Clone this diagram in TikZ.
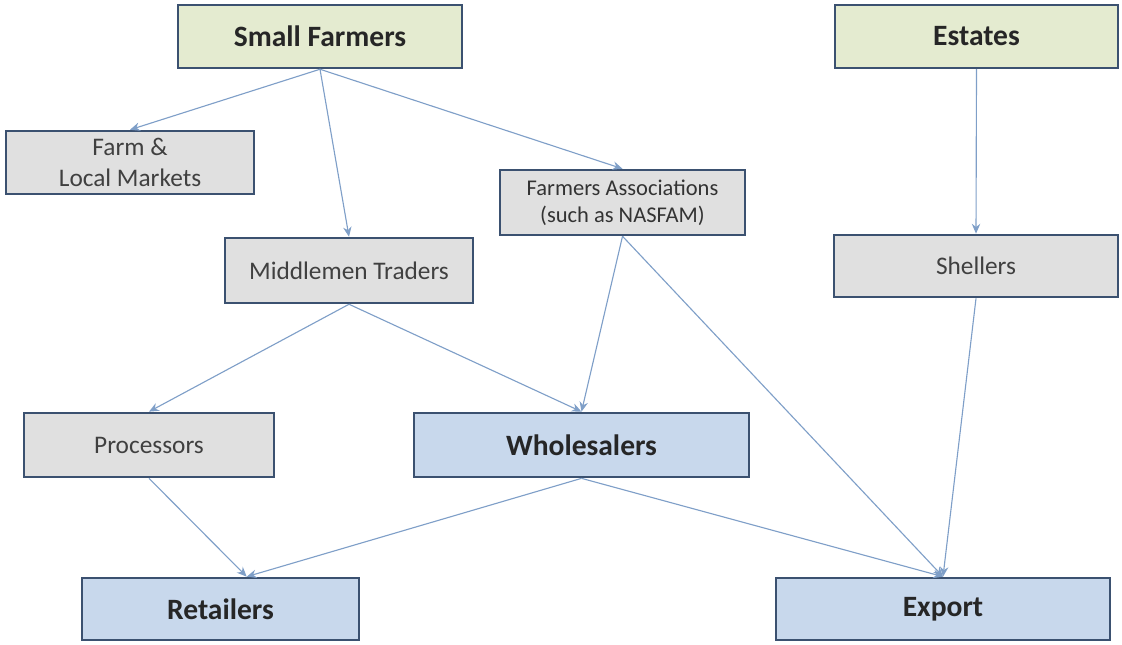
\documentclass[tikz,border=0pt]{standalone}
\usepackage{fontspec}
\setmainfont{Carlito}
\usepackage{tikz}
\usetikzlibrary{arrows.meta}
\definecolor{bordc}{HTML}{3B5170}
\definecolor{arrc}{HTML}{7F9FC8}
\definecolor{grnfill}{HTML}{E4EBD0}
\definecolor{gryfill}{HTML}{E0E0E0}
\definecolor{blufill}{HTML}{C8D8EC}
\definecolor{txtc}{HTML}{404040}

\begin{document}
\begin{tikzpicture}[x=0.025cm,y=-0.025cm,>={Stealth[length=7pt,width=6pt]},
  box/.style={draw=bordc,line width=1.9pt,align=center,inner sep=2pt},
  greenbox/.style={box,fill=grnfill,font=\fontsize{21}{24}\selectfont\bfseries,text=black!85},
  greybox/.style={box,fill=gryfill,font=\fontsize{18}{22}\selectfont,text=txtc},
  bluebox/.style={box,fill=blufill,font=\fontsize{21}{24}\selectfont\bfseries,text=black!85},
  flow/.style={->,arrc,line width=0.8pt}]
  \useasboundingbox (0,0) rectangle (1122,644);
  % producers
  \node[greenbox,minimum width=7.1cm,minimum height=1.57cm] (sf) at (320,36.5) {Small Farmers};
  \node[greenbox,minimum width=7.07cm,minimum height=1.57cm] (est) at (976.5,36.5) {Estates};
  % intermediaries
  \node[greybox,minimum width=6.2cm,minimum height=1.57cm] (flm) at (130,162.5) {Farm \&\\Local Markets};
  \node[greybox,minimum width=6.12cm,minimum height=1.62cm,font=\fontsize{16}{19}\selectfont,text=black!80] (fa) at (622.5,202.5) {Farmers Associations\\(such as NASFAM)};
  \node[greybox,minimum width=6.2cm,minimum height=1.62cm] (mt) at (349,270.5) {Middlemen Traders};
  \node[greybox,minimum width=7.1cm,minimum height=1.55cm] (sh) at (976,266) {Shellers};
  \node[greybox,minimum width=6.25cm,minimum height=1.6cm] (proc) at (149,445) {Processors};
  \node[bluebox,minimum width=8.37cm,minimum height=1.6cm] (wh) at (581.5,445) {Wholesalers};
  % end markets
  \node[bluebox,minimum width=6.92cm,minimum height=1.55cm] (ret) at (220.5,609) {Retailers};
  \node[bluebox,minimum width=8.35cm,minimum height=1.55cm] (exp) at (943,609) {Export};
  % flows
  \draw[flow] (sf.south) -- (flm.north);
  \draw[flow] (sf.south) -- (mt.north);
  \draw[flow] (sf.south) -- (fa.north);
  \draw[flow] (est.south) -- (sh.north);
  \draw[flow] (mt.south) -- (proc.north);
  \draw[flow] (mt.south) -- (wh.north);
  \draw[flow] (fa.south) -- (wh.north);
  \draw[flow] (fa.south) -- (exp.north);
  \draw[flow] (sh.south) -- (exp.north);
  \draw[flow] (proc.south) -- (ret.51);
  \draw[flow] (wh.south) -- (ret.51);
  \draw[flow] (wh.south) -- (exp.north);
\end{tikzpicture}
\end{document}
